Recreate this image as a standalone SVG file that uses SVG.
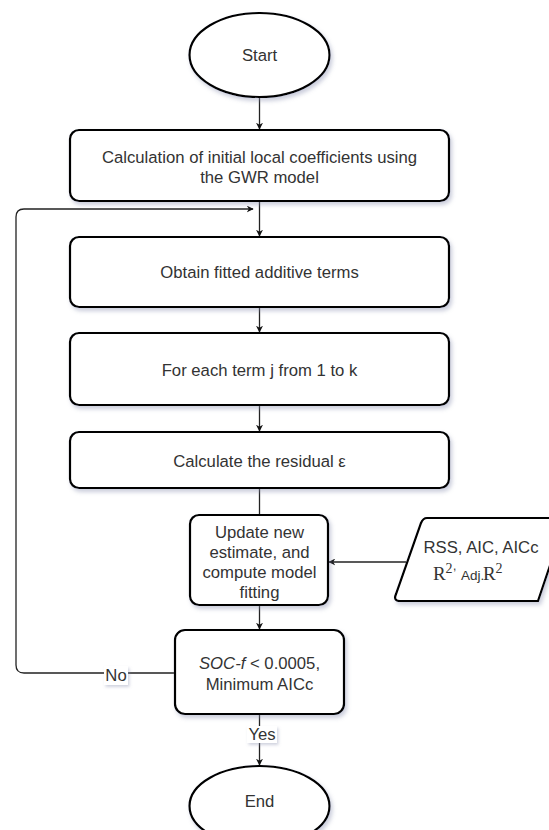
<svg xmlns="http://www.w3.org/2000/svg" width="549" height="830" viewBox="0 0 549 830">
<style>
.shape{fill:#ffffff;stroke:#000000;stroke-width:2.2;filter:url(#sh)}
.t{font-family:"Liberation Sans",Arial,sans-serif;font-size:16.7px;fill:#333333;text-anchor:middle}
.c{fill:none;stroke:#222222;stroke-width:1.3}
.lbl{fill:#ffffff;filter:url(#sh2)}
.serif{font-family:"Liberation Serif","Times New Roman",serif;fill:#333333}
.sans{font-family:"Liberation Sans",Arial,sans-serif;fill:#333333}
</style>
<defs>
<filter id="sh" x="-20%" y="-20%" width="140%" height="150%">
<feDropShadow dx="2" dy="3" stdDeviation="2" flood-color="#8a90b0" flood-opacity="0.45"/>
</filter>
<filter id="sh2" x="-30%" y="-30%" width="160%" height="170%">
<feDropShadow dx="1.5" dy="2" stdDeviation="1.5" flood-color="#8a90b0" flood-opacity="0.4"/>
</filter>
<marker id="arr" viewBox="0 0 10 10" refX="9" refY="5" markerWidth="7" markerHeight="7" markerUnits="userSpaceOnUse" orient="auto">
<path d="M0,0 L10,5 L0,10 L3,5 Z" fill="#111111"/>
</marker>
</defs>

<g id="connectors">
<line class="c" x1="259.5" y1="97" x2="259.5" y2="129" marker-end="url(#arr)"/>
<line class="c" x1="259.5" y1="201" x2="259.5" y2="236" marker-end="url(#arr)"/>
<line class="c" x1="259.5" y1="307" x2="259.5" y2="332" marker-end="url(#arr)"/>
<line class="c" x1="259.5" y1="405" x2="259.5" y2="431" marker-end="url(#arr)"/>
<line class="c" x1="259.5" y1="488" x2="259.5" y2="515"/>
<line class="c" x1="259.5" y1="605" x2="259.5" y2="629" marker-end="url(#arr)"/>
<line class="c" x1="406" y1="562" x2="329" y2="562" marker-end="url(#arr)"/>
<path class="c" d="M175,673 L24,673 Q16,673 16,665 L16,217 Q16,209 24,209 L253,209" marker-end="url(#arr)"/>
<line class="c" x1="259.5" y1="714" x2="259.5" y2="765" marker-end="url(#arr)"/>
<g id="label-no">
<rect class="lbl" x="104" y="666" width="24" height="19"/>
<text class="t" x="116" y="681">No</text>
</g>
<g id="label-yes">
<rect class="lbl" x="247" y="726" width="30" height="17"/>
<text class="t" x="262" y="740">Yes</text>
</g>
</g>

<g id="start">
<ellipse class="shape" cx="259.5" cy="55" rx="70" ry="42"/>
<text class="t" x="259.5" y="61">Start</text>
</g>

<g id="init">
<rect class="shape" x="70" y="130" width="379" height="71" rx="9"/>
<text class="t" x="259.5" y="163">Calculation of initial local coefficients using</text>
<text class="t" x="259.5" y="183">the GWR model</text>
</g>

<g id="fitted">
<rect class="shape" x="70" y="237" width="379" height="70" rx="9"/>
<text class="t" x="259.5" y="278">Obtain fitted additive terms</text>
</g>

<g id="foreach">
<rect class="shape" x="70" y="333" width="379" height="72" rx="9"/>
<text class="t" x="259.5" y="376">For each term j from 1 to k</text>
</g>

<g id="residual">
<rect class="shape" x="70" y="432" width="379" height="56" rx="9"/>
<text class="t" x="259.5" y="467">Calculate the residual ε</text>
</g>

<g id="update">
<rect class="shape" x="190" y="515" width="138" height="90" rx="9"/>
<text class="t" x="259.5" y="538">Update new</text>
<text class="t" x="259.5" y="558">estimate, and</text>
<text class="t" x="259.5" y="578">compute model</text>
<text class="t" x="259.5" y="598">fitting</text>
</g>

<g id="metrics">
<path class="shape" d="M427,518 L566,518 L538,601 L400,601 Q393,601 396,594 L421,523 Q423,518 427,518 Z"/>
<text class="t" x="481" y="553">RSS, AIC, AICc</text>
<text class="serif" x="433" y="580" font-size="19">R</text>
<text class="serif" x="445.5" y="573" font-size="14">2</text>
<text class="sans" x="453" y="570" font-size="12">,</text>
<text class="sans" x="461" y="580" font-size="13.5">Adj.</text>
<text class="serif" x="483" y="580" font-size="19">R</text>
<text class="serif" x="495.5" y="573" font-size="14">2</text>
</g>

<g id="check">
<rect class="shape" x="175" y="630" width="169" height="84" rx="10"/>
<text class="t" x="259.5" y="669"><tspan font-style="italic">SOC-f</tspan> &lt; 0.0005,</text>
<text class="t" x="259.5" y="690">Minimum AICc</text>
</g>

<g id="end">
<ellipse class="shape" cx="259.5" cy="806" rx="70" ry="40"/>
<text class="t" x="259.5" y="807">End</text>
</g>
</svg>
